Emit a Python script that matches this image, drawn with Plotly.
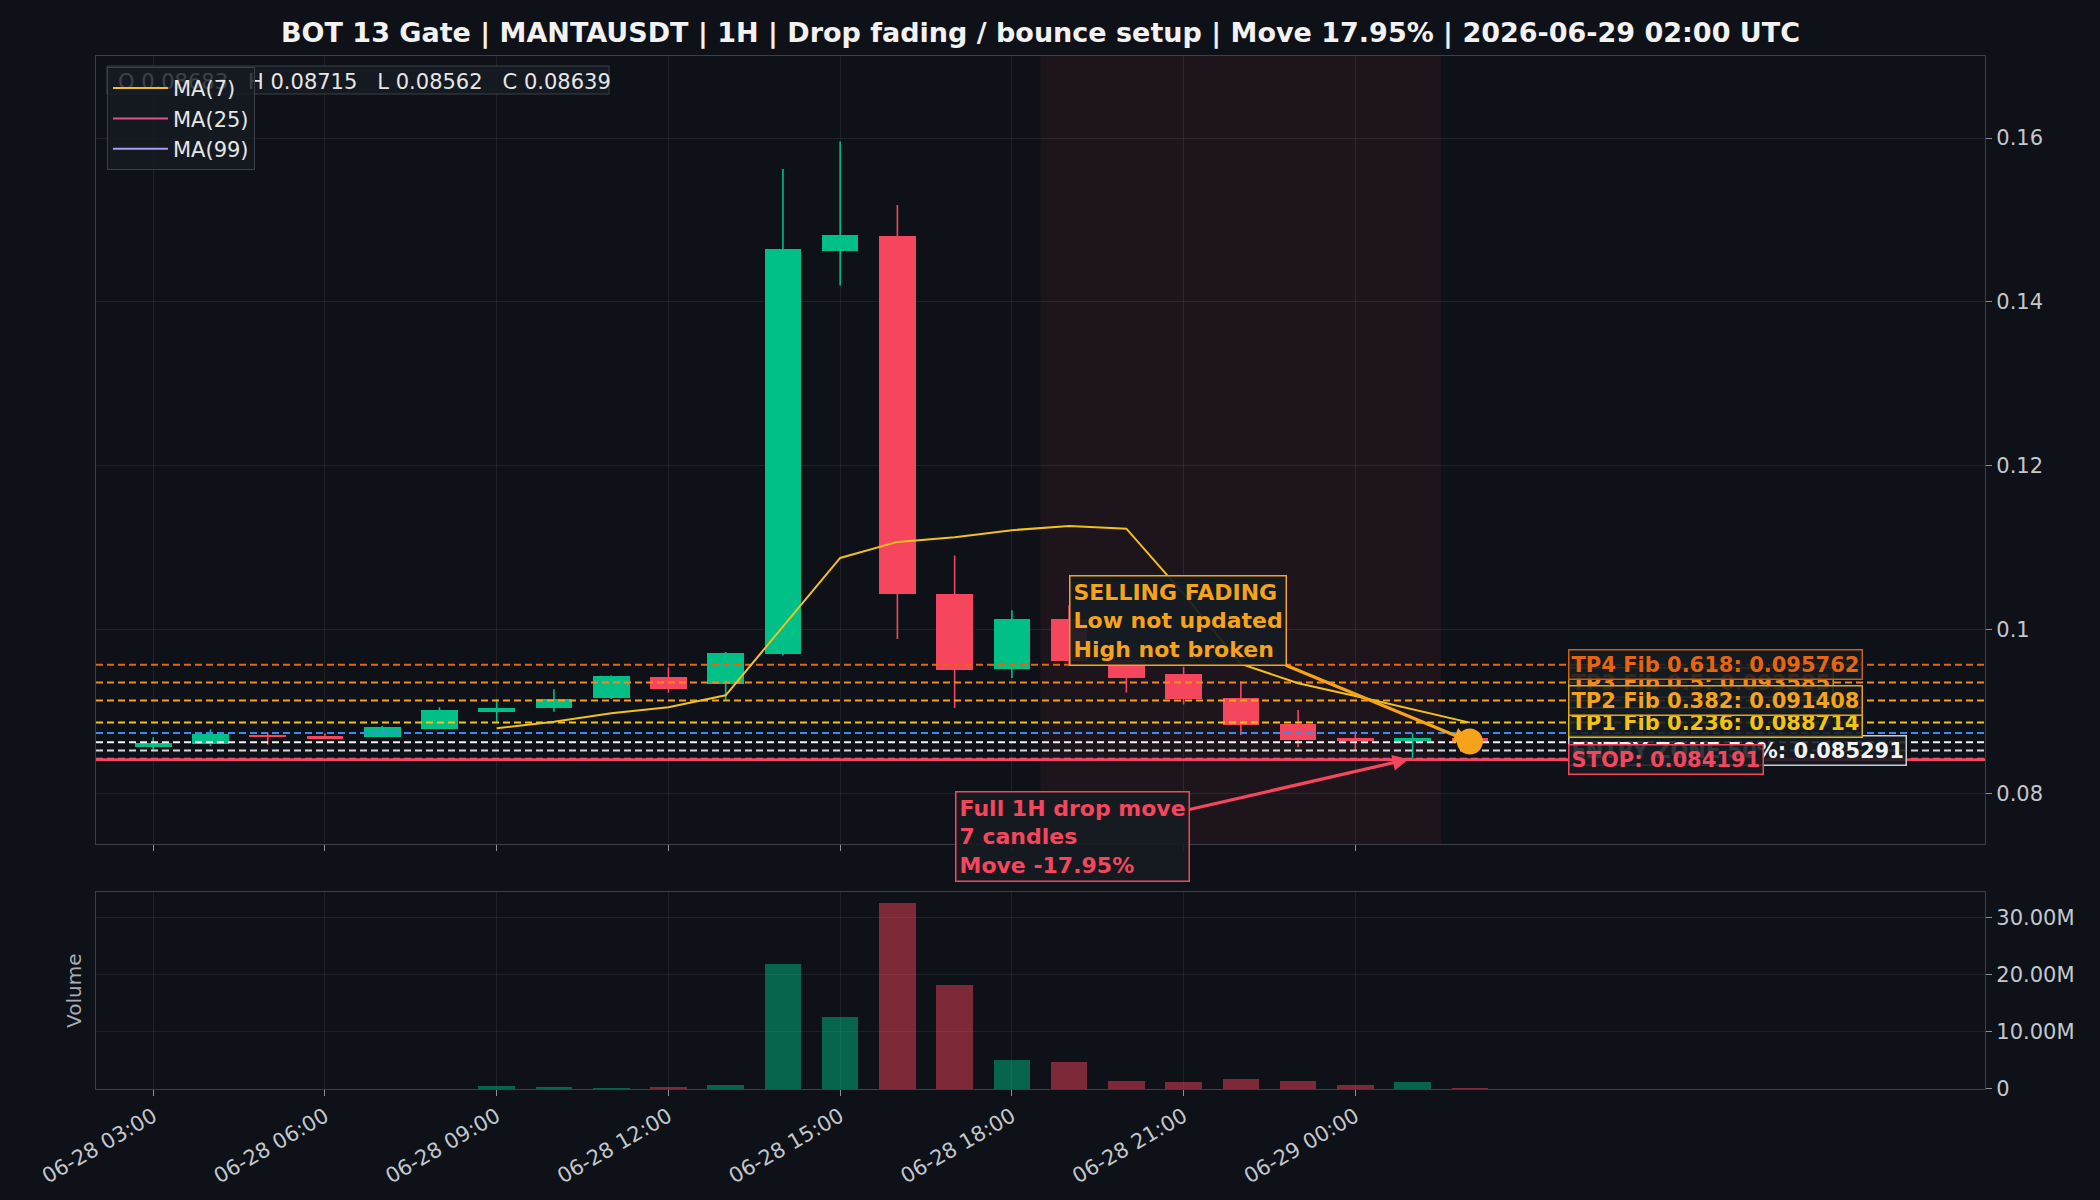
import plotly.graph_objects as go

# ---------------- data ----------------
times = [
    "2026-06-28 03:00", "2026-06-28 04:00", "2026-06-28 05:00", "2026-06-28 06:00",
    "2026-06-28 07:00", "2026-06-28 08:00", "2026-06-28 09:00", "2026-06-28 10:00",
    "2026-06-28 11:00", "2026-06-28 12:00", "2026-06-28 13:00", "2026-06-28 14:00",
    "2026-06-28 15:00", "2026-06-28 16:00", "2026-06-28 17:00", "2026-06-28 18:00",
    "2026-06-28 19:00", "2026-06-28 20:00", "2026-06-28 21:00", "2026-06-28 22:00",
    "2026-06-28 23:00", "2026-06-29 00:00", "2026-06-29 01:00", "2026-06-29 02:00",
]
opens = [0.08577, 0.08606, 0.08720, 0.08703, 0.08699, 0.08797, 0.09004, 0.09053,
         0.09175, 0.09423, 0.09337, 0.09709, 0.14626, 0.14804, 0.10443, 0.09524,
         0.10130, 0.09634, 0.09459, 0.09166, 0.08854, 0.08679, 0.08646, 0.08683]
highs = [0.08691, 0.08789, 0.08748, 0.08740, 0.08829, 0.09057, 0.09155, 0.09277,
         0.09445, 0.09545, 0.09730, 0.15622, 0.15957, 0.15183, 0.10908, 0.10239,
         0.10300, 0.09720, 0.09550, 0.09370, 0.09024, 0.08764, 0.08740, 0.08715]
lows = [0.08530, 0.08585, 0.08602, 0.08667, 0.08691, 0.08789, 0.08882, 0.09004,
        0.09159, 0.09236, 0.09146, 0.09690, 0.14200, 0.09891, 0.09049, 0.09413,
        0.09560, 0.09236, 0.09093, 0.08719, 0.08569, 0.08537, 0.08435, 0.08562]
closes = [0.08626, 0.08728, 0.08699, 0.08675, 0.08813, 0.09024, 0.09045, 0.09155,
          0.09435, 0.09285, 0.09720, 0.14643, 0.14817, 0.10439, 0.09517, 0.10130,
          0.09620, 0.09411, 0.09154, 0.08841, 0.08658, 0.08646, 0.08679, 0.08639]
volumes = [30e3, 50e3, 20e3, 20e3, 40e3, 80e3, 0.60e6, 0.40e6,
           0.10e6, 0.40e6, 0.76e6, 21.9e6, 12.6e6, 32.5e6, 18.2e6, 5.1e6,
           4.65e6, 1.34e6, 1.16e6, 1.80e6, 1.46e6, 0.76e6, 1.16e6, 0.20e6]

ma7_times = times[6:]
ma7_values = [0.08801, 0.08882, 0.08984, 0.09057, 0.09203, 0.10044, 0.10878, 0.11074,
              0.11130, 0.11217, 0.11269, 0.11235, 0.10441, 0.09587, 0.09350, 0.09195,
              0.09033, 0.08870]

level_names = ["TP4 Fib 0.618", "TP3 Fib 0.5", "TP2 Fib 0.382", "TP1 Fib 0.236",
               "ENTRY ZONE 50%", "STOP"]
level_values = [0.095762, 0.093585, 0.091408, 0.088714, 0.085291, 0.084191]
extra_levels = [0.08744, 0.08630, 0.08428]   # reference / zone high / zone low

x_tick_vals = ["2026-06-28 03:00", "2026-06-28 06:00", "2026-06-28 09:00",
               "2026-06-28 12:00", "2026-06-28 15:00", "2026-06-28 18:00",
               "2026-06-28 21:00", "2026-06-29 00:00"]
x_tick_text = ["06-28 03:00", "06-28 06:00", "06-28 09:00", "06-28 12:00",
               "06-28 15:00", "06-28 18:00", "06-28 21:00", "06-29 00:00"]
vol_tick_vals = [0, 10e6, 20e6, 30e6]
vol_tick_text = ["0", "10.00M", "20.00M", "30.00M"]

shade_start = "2026-06-28 18:30"
shade_end = "2026-06-29 01:30"
x_start = "2026-06-28 02:00"
x_end = "2026-06-29 11:00"

title_text = ("BOT 13 Gate | MANTAUSDT | 1H | Drop fading / bounce setup | "
              "Move 17.95% | 2026-06-29 02:00 UTC")

# ---------------- style ----------------
BG = "#0e1117"
GREEN = "#00c087"
RED = "#f6465d"
GREEN_V = "rgba(0,192,135,0.48)"
RED_V = "rgba(246,70,93,0.48)"
GRID = "rgba(255,255,255,0.07)"
SPINE = "#3b4048"
TICK = "#c3c7ce"
FONT = "DejaVu Sans"
HOUR_MS = 3600 * 1000
BODY_W = 0.64 * HOUR_MS

level_line_colors = ["#e8650f", "#f08a1d", "#f5a31a", "#f2c40f", "#d4d6da", RED]
level_text_colors = ["#e8650f", "#f08a1d", "#f5a31a", "#f2c40f", "#f2f2f2", RED]
level_border_colors = ["#c9610f", "#d98a1d", "#e6a21a", "#e0b90f", "#c9ccd2", RED]
extra_colors = ["#3d8bf2", "#f2f2f2", "#9a82e6"]

up = [c >= o for o, c in zip(opens, closes)]
body_base = [min(o, c) for o, c in zip(opens, closes)]
body_h = [max(abs(c - o), 0.00012) for o, c in zip(opens, closes)]
body_colors = [GREEN if u else RED for u in up]
vol_colors = [GREEN_V if u else RED_V for u in up]

fig = go.Figure()

# candle bodies
fig.add_trace(go.Bar(x=times, y=body_h, base=body_base, width=BODY_W,
                     marker=dict(color=body_colors, line=dict(width=0)),
                     xaxis="x", yaxis="y", showlegend=False, hoverinfo="skip"))

# wicks
for flag, col in ((True, GREEN), (False, RED)):
    wx, wy = [], []
    for t, h, l, u in zip(times, highs, lows, up):
        if u == flag:
            wx += [t, t, None]
            wy += [l, h, None]
    fig.add_trace(go.Scatter(x=wx, y=wy, mode="lines", line=dict(color=col, width=1.6),
                             xaxis="x", yaxis="y", showlegend=False, hoverinfo="skip"))

# horizontal levels (drawn over candles)
for val, col in zip(extra_levels, extra_colors):
    fig.add_trace(go.Scatter(x=[x_start, x_end], y=[val, val], mode="lines",
                             line=dict(color=col, width=2, dash="7px,4px"),
                             xaxis="x", yaxis="y", showlegend=False, hoverinfo="skip"))
for val, col, name in zip(level_values, level_line_colors, level_names):
    fig.add_trace(go.Scatter(x=[x_start, x_end], y=[val, val], mode="lines",
                             line=dict(color=col, width=2.6 if name == "STOP" else 2,
                                       dash="solid" if name == "STOP" else "7px,4px"),
                             xaxis="x", yaxis="y", showlegend=False, hoverinfo="skip"))

# moving averages
fig.add_trace(go.Scatter(x=ma7_times, y=ma7_values, mode="lines", name="MA(7)",
                         line=dict(color="#f2c21b", width=2), xaxis="x", yaxis="y"))
fig.add_trace(go.Scatter(x=[None], y=[None], mode="lines", name="MA(25)",
                         line=dict(color="#e0528c", width=2), xaxis="x", yaxis="y"))
fig.add_trace(go.Scatter(x=[None], y=[None], mode="lines", name="MA(99)",
                         line=dict(color="#a79cf2", width=2), xaxis="x", yaxis="y"))

# current price dot
fig.add_trace(go.Scatter(x=[times[-1]], y=[closes[-1]], mode="markers",
                         marker=dict(color="#f5a31a", size=26), xaxis="x", yaxis="y",
                         showlegend=False, hoverinfo="skip"))

# volume
fig.add_trace(go.Bar(x=times, y=volumes, width=BODY_W,
                     marker=dict(color=vol_colors, line=dict(width=0)),
                     xaxis="x2", yaxis="y2", showlegend=False, hoverinfo="skip"))

# ---------------- shapes ----------------
shapes = [
    dict(type="rect", xref="x", yref="y domain", x0=shade_start, x1=shade_end, y0=0, y1=1,
         fillcolor="rgba(246,70,93,0.075)", line=dict(width=0), layer="below"),
    dict(type="rect", xref="paper", yref="paper", x0=0.0058, x1=0.2716, y0=0.9632, y1=0.9903,
         fillcolor="rgba(22,27,34,0.9)", line=dict(color=SPINE, width=1), layer="above",
         label=dict(text="O %.5f   H %.5f   L %.5f   C %.5f" % (opens[-1], highs[-1], lows[-1], closes[-1]),
                    textposition="middle left", padding=8,
                    font=dict(family=FONT, size=21, color="#e6e6e6"))),
]

# ---------------- annotations ----------------
annotations = []
order = [4, 5, 3, 1, 2, 0]
for i in order:
    annotations.append(dict(
        xref="paper", yref="y", x=0.7793, y=level_values[i], xanchor="left", yanchor="middle",
        text="%s: %.6f" % (level_names[i], level_values[i]), showarrow=False,
        font=dict(family=FONT, size=21, color=level_text_colors[i], weight="bold"),
        bgcolor="rgba(22,27,34,0.88)", bordercolor=level_border_colors[i], borderwidth=1.5,
        borderpad=2))

annotations.append(dict(
    xref="x", yref="y", x=times[-1], y=closes[-1], ax=-292, ay=-121,
    text="SELLING FADING<br>Low not updated<br>High not broken", align="left",
    showarrow=True, arrowhead=2, arrowsize=1, arrowwidth=3.2, arrowcolor="#f5a31a",
    standoff=0,
    font=dict(family=FONT, size=22, color="#f5a31a", weight="bold"),
    bgcolor="rgba(22,27,34,0.92)", bordercolor="#f5a31a", borderwidth=1.5, borderpad=3))

annotations.append(dict(
    xref="x", yref="y", x=times[-2], y=lows[-2], ax=-340, ay=78,
    text="Full 1H drop move<br>7 candles<br>Move -17.95%", align="left",
    showarrow=True, arrowhead=2, arrowsize=1, arrowwidth=3.2, arrowcolor=RED,
    standoff=4,
    font=dict(family=FONT, size=22, color=RED, weight="bold"),
    bgcolor="rgba(22,27,34,0.92)", bordercolor=RED, borderwidth=1.5, borderpad=3))

annotations.append(dict(
    xref="paper", yref="paper", x=-0.012, y=0.0953, text="Volume", textangle=-90,
    showarrow=False, xanchor="center", yanchor="middle",
    font=dict(family=FONT, size=20, color="#a8adb5")))

# ---------------- layout ----------------
axis_common = dict(showgrid=True, gridcolor=GRID, gridwidth=1, zeroline=False,
                   showline=True, linecolor=SPINE, linewidth=1.2, mirror=True,
                   ticks="outside", ticklen=6, tickcolor="#8b919a",
                   tickfont=dict(family=FONT, size=21, color=TICK))

fig.update_layout(
    width=2100, height=1200,
    paper_bgcolor=BG, plot_bgcolor=BG,
    margin=dict(l=96, r=115, t=56, b=111),
    font=dict(family=FONT, color=TICK),
    bargap=0, barmode="overlay",
    title=dict(text=title_text, x=0.5, xref="paper", xanchor="center",
               y=1 - 33 / 1200, yref="container", yanchor="middle",
               font=dict(family=FONT, size=27, color="#f2f2f2", weight="bold")),
    xaxis=dict(domain=[0, 1], anchor="y", matches="x2", showticklabels=False,
               type="date", range=[x_start, x_end], tickmode="array",
               tickvals=x_tick_vals, ticktext=x_tick_text, **axis_common),
    yaxis=dict(domain=[0.2372, 1], anchor="x", side="right", range=[0.0739, 0.1700],
               dtick=0.02, tick0=0.08, **axis_common),
    xaxis2=dict(domain=[0, 1], anchor="y2", type="date", range=[x_start, x_end],
                tickmode="array", tickvals=x_tick_vals, ticktext=x_tick_text,
                tickangle=-30, **axis_common),
    yaxis2=dict(domain=[0, 0.1907], anchor="x2", side="right", range=[0, 34.4e6],
                tickmode="array", tickvals=vol_tick_vals, ticktext=vol_tick_text,
                **axis_common),
    legend=dict(x=0.0058, y=0.9894, xanchor="left", yanchor="top",
                bgcolor="rgba(22,27,34,0.82)", bordercolor=SPINE, borderwidth=1,
                font=dict(family=FONT, size=21, color="#e6e6e6"),
                itemwidth=55, tracegroupgap=0),
    shapes=shapes,
    annotations=annotations,
)

fig.write_html("out.html")
